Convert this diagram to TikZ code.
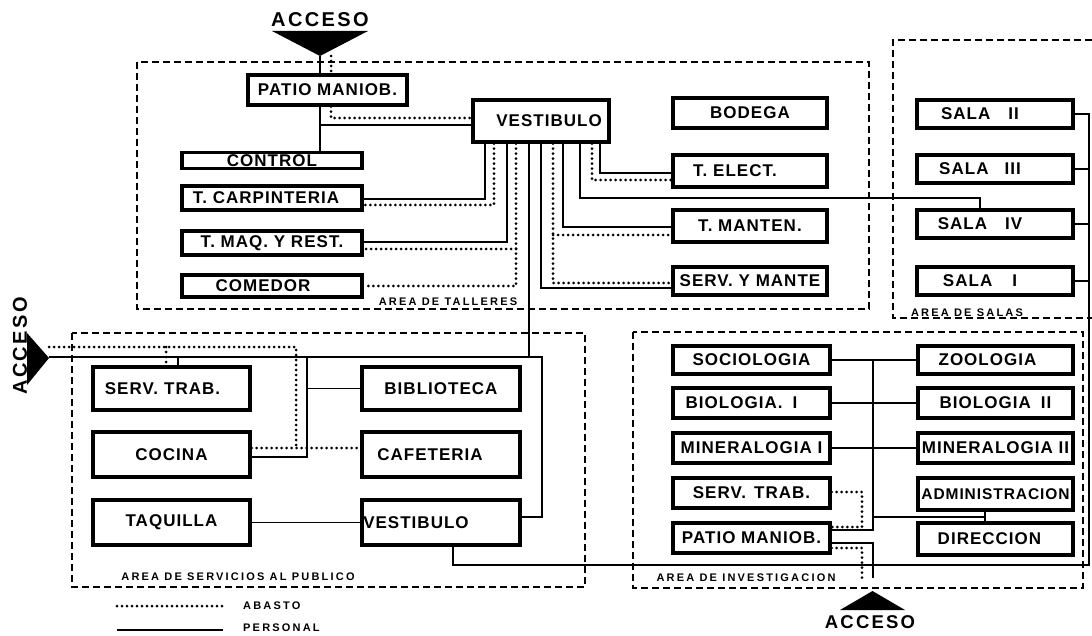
\documentclass[tikz,border=0pt]{standalone}
\usepackage{fontspec}
\setmainfont{Liberation Sans}
\newfontfamily\boxf{Liberation Sans}[LetterSpace=6]
\newfontfamily\lblf{Liberation Sans}[LetterSpace=20]
\newfontfamily\accf{Liberation Sans}[LetterSpace=12]
\begin{document}
\begin{tikzpicture}[x=1pt,y=-1pt,
  box/.style={draw, line width=3.2pt, inner sep=0pt, font={\boxf\bfseries\fontsize{17pt}{17pt}\selectfont}},
  wh/.style 2 args={minimum width=#1pt, minimum height=#2pt},
  pers/.style={line width=1.6pt},
  abas/.style={line width=3pt, dash pattern=on 0pt off 5pt, line cap=round},
  area/.style={line width=1.3pt, dash pattern=on 7pt off 4pt},
  lbl/.style={inner sep=0pt, font={\lblf\bfseries\fontsize{11pt}{11pt}\selectfont}},
  acc/.style={inner sep=0pt, font={\accf\bfseries\fontsize{20pt}{20pt}\selectfont}}]
\useasboundingbox (0,0) rectangle (1092,636);

% ---------- area frames ----------
\draw[area] (137,62) rectangle (869,309);
\draw[area] (1092,40) -- (893,40) -- (893,318) -- (1092,318);
\draw[area] (72,333) rectangle (585,587);
\draw[area] (633,332) rectangle (1083,588);
\node[lbl] (lblT) at (448,302) {AREA DE TALLERES};
\node[lbl] (lblSa) at (967,313) {AREA DE SALAS};
\node[lbl] (lblSe) at (238,577) {AREA DE SERVICIOS AL PUBLICO};
\node[lbl] (lblI) at (746,578) {AREA DE INVESTIGACION};

% ---------- accesses ----------
\node[acc] (accT) at (320,20) {ACCESO};
\fill (272,31) -- (368,31) -- (320,56) -- cycle;
\coordinate (tipT) at (320,56);
\coordinate (tipTd) at (331,56);
\node[acc, rotate=90] (accL) at (20,346) {ACCESO};
\fill (27,333) -- (27,385) -- (49,358) -- cycle;
\coordinate (tipL) at (49,357);
\coordinate (tipLd) at (49,347);
\node[acc, font={\accf\bfseries\fontsize{18.5pt}{18.5pt}\selectfont}] (accB) at (870,622) {ACCESO};
\fill (872.5,591) -- (905,610) -- (840,610) -- cycle;
\coordinate (tipB) at (873,578);
\coordinate (tipBd) at (862,578);

% ---------- talleres ----------
\node[box, wh={159}{30}] (patT) at (327.5,90) {PATIO MANIOB.};
\node[box, wh={136}{42}] (vestT) at (541,121) {\hspace*{16pt}VESTIBULO};
\node[box, wh={180}{16}] (control) at (272,160.5) {CONTROL};
\node[box, wh={180}{24}] (carp) at (272,198) {T. CARPINTERIA\hspace*{12pt}};
\node[box, wh={180}{24}] (maq) at (272,243) {T. MAQ. Y REST.};
\node[box, wh={180}{22}] (comedor) at (272,286) {COMEDOR\hspace*{18pt}};
\node[box, wh={154}{30}] (bodega) at (750,113) {BODEGA};
\node[box, wh={154}{32}] (telect) at (750,171) {T. ELECT.\hspace*{30pt}};
\node[box, wh={154}{32}] (tmant) at (750,226) {T. MANTEN.};
\node[box, wh={154}{28}] (servm) at (750,281) {SERV. Y MANTE};

% ---------- salas ----------
\node[box, wh={156}{28}] (sala2) at (995,114) {SALA\hspace{18pt}II\hspace*{30pt}};
\node[box, wh={156}{28}] (sala3) at (995,169) {SALA\hspace{16pt}III\hspace*{30pt}};
\node[box, wh={156}{28}] (sala4) at (995,224) {SALA\hspace{18pt}IV\hspace*{30pt}};
\node[box, wh={156}{28}] (sala1) at (995,281) {SALA\hspace{20pt}I\hspace*{30pt}};

% ---------- servicios ----------
\node[box, wh={157}{43}] (servt) at (171.5,388.5) {SERV.\hspace{6pt}TRAB.\hspace*{18pt}};
\node[box, wh={157}{45}] (cocina) at (171.5,454.5) {COCINA};
\node[box, wh={157}{45}] (taq) at (171.5,522.5) {TAQUILLA};
\node[box, wh={158}{43}] (biblio) at (441,388.5) {BIBLIOTECA};
\node[box, wh={158}{45}] (cafe) at (441,454.5) {CAFETERIA\hspace*{22pt}};
\node[box, wh={158}{45}] (vestS) at (441,522.5) {VESTIBULO\hspace*{50pt}};

% ---------- investigacion ----------
\node[box, wh={157}{28}] (soc) at (751.5,360) {SOCIOLOGIA};
\node[box, wh={157}{30}] (bio1) at (751.5,403) {BIOLOGIA.\hspace{10pt}I\hspace*{20pt}};
\node[box, wh={157}{30}] (min1) at (751.5,448) {MINERALOGIA I};
\node[box, wh={157}{30}] (servi) at (751.5,493) {SERV.\hspace{8pt}TRAB.};
\node[box, wh={157}{30}] (pati) at (751.5,538) {PATIO MANIOB.};
\node[box, wh={155}{28}] (zoo) at (995.5,360) {ZOOLOGIA\hspace*{16pt}};
\node[box, wh={155}{30}] (bio2) at (995.5,403) {BIOLOGIA\hspace{10pt}II};
\node[box, wh={155}{30}] (min2) at (995.5,448) {MINERALOGIA II};
\node[box, wh={155}{32}, font={\boxf\bfseries\fontsize{15.5pt}{15.5pt}\selectfont}] (admin) at (995.5,494) {ADMINISTRACION};
\node[box, wh={155}{32}] (direc) at (995.5,539) {DIRECCION\hspace*{12pt}};

% ---------- connectors: talleres ----------
\draw[pers] (tipT) -- (tipT |- patT.north);
\draw[abas] (tipTd) -- (tipTd |- patT.north);
\draw[pers] (tipT |- patT.south) -- (tipT |- control.north);
\draw[pers] (tipT |- 0,125) -- (vestT.west |- 0,125);
\draw[abas] (tipTd |- patT.south) |- (vestT.west |- 0,118);

\draw[pers] (vestT.south -| 485,0) |- (carp.east |- 0,199);
\draw[abas] (vestT.south -| 494,0) |- (carp.east |- 0,205);
\draw[pers] (vestT.south -| 507,0) |- (maq.east |- 0,242);
\draw[abas] (vestT.south -| 516,0) |- (comedor.east |- 0,286);
\draw[abas] (516,249) -- (maq.east |- 0,249);
\draw[pers] (vestT.south -| 529,0) -- (529,357);
\draw[pers] (vestT.south -| 541,0) |- (servm.west |- 0,288);
\draw[abas] (vestT.south -| 553,0) |- (servm.west |- 0,283);
\draw[abas] (553,235) -- (tmant.west |- 0,235);
\draw[pers] (vestT.south -| 563,0) |- (tmant.west |- 0,227);
\draw[pers] (vestT.south -| 580,0) |- (980,198) -- (sala4.north -| 980,0);
\draw[abas] (vestT.south -| 592,0) |- (telect.west |- 0,180);
\draw[pers] (vestT.south -| 600,0) |- (telect.west |- 0,173);

% ---------- connectors: salas ----------
\draw[pers] (vestS.south -| 453,0) |- (1089,565) |- (sala2.east);
\draw[pers] (sala3.east) -- (sala3.east -| 1089,0);
\draw[pers] (sala4.east) -- (sala4.east -| 1089,0);
\draw[pers] (sala1.east) -- (sala1.east -| 1089,0);

% ---------- connectors: servicios ----------
\draw[pers] (tipL) -| (542,517) -- (vestS.east |- 0,517);
\draw[abas] (tipLd) -| (296,448);
\draw[abas] (cocina.east |- 0,448) -- (cafe.west |- 0,448);
\draw[pers] (307,357) |- (cocina.east |- 0,457);
\draw[pers] (307,388.5) -- (biblio.west);
\draw[pers] (178,357) -- (servt.north -| 178,0);
\draw[abas] (166,347) -- (servt.north -| 166,0);
\draw[pers] (taq.east) -- (vestS.west);

% ---------- connectors: investigacion ----------
\draw[pers] (soc.east) -- (zoo.west);
\draw[pers] (bio1.east) -- (bio2.west);
\draw[pers] (min1.east) -- (min2.west);
\draw[pers] (873,360) |- (pati.east |- 0,530);
\draw[pers] (873,517) -- (985,517);
\draw[pers] (admin.south -| 985,0) -- (direc.north -| 985,0);
\draw[pers] (pati.east |- 0,543) -| (tipB);
\draw[abas] (servi.east |- 0,492) -| (862,527) -- (pati.east |- 0,527);
\draw[abas] (pati.east |- 0,548) -| (tipBd);

% ---------- legend ----------
\coordinate (la1) at (117,606);
\coordinate (la2) at (223,606);
\coordinate (lp1) at (117,630);
\coordinate (lp2) at (223,630);
\draw[abas] (la1) -- (la2);
\draw[pers] (lp1) -- (lp2);
\node[lbl, anchor=west] (legA) at (243,606) {ABASTO};
\node[lbl, anchor=west] (legP) at (243,628) {PERSONAL};
\end{tikzpicture}
\end{document}
